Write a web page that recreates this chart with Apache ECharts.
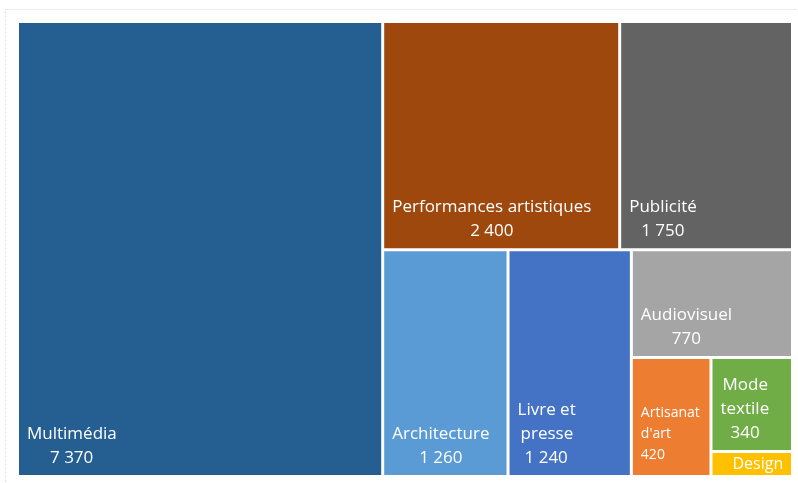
<!DOCTYPE html>
<html><head><meta charset="utf-8">
<script src="https://cdn.jsdelivr.net/npm/echarts@6/dist/echarts.min.js"></script>
<style>html,body{margin:0;padding:0;background:#fff}#c{width:798px;height:483px}</style>
</head><body><div id="c"></div>
<script>
const categories = ['Multimédia', 'Performances artistiques', 'Publicité', 'Architecture', 'Livre et presse', 'Audiovisuel', "Artisanat d'art", 'Mode textile', 'Design'];
const values = [7370, 2400, 1750, 1260, 1240, 770, 420, 340, 90];
const labelLines = [['Multimédia'], ['Performances artistiques'], ['Publicité'], ['Architecture'], ['Livre et', 'presse'], ['Audiovisuel'], ['Artisanat', "d'art"], ['Mode', 'textile'], ['Design']];
const colors = ['#255E91', '#9E480E', '#636363', '#5B9BD5', '#4472C4', '#A5A5A5', '#ED7D31', '#70AD47', '#FFC000'];
// grouping of categories (indices) that reproduces the reference layout
const structure = [0, [[1, 2], [3, 4, [5, [6, [7, 8]]]]]];

const FONT = 'Open Sans';
const ctx = document.createElement('canvas').getContext('2d');
function textW(s, size) { ctx.font = size + 'px "' + FONT + '"'; return ctx.measureText(s).width; }
function fmt(v) { return String(v).replace(/\B(?=(\d{3})+(?!\d))/g, ' '); }

function leaf(i) {
  let label;
  if (i === 8) {
    label = {
      formatter: '{b}', color: '#fff', fontFamily: FONT, fontSize: 16, lineHeight: 18,
      padding: 0, position: [20, 2], overflow: 'truncate', ellipsis: ''
    };
  } else {
    const centered = i !== 6;
    const size = centered ? 17 : 14;
    const lh = centered ? 24 : 21;
    const bottom = centered ? 5 : 9;
    const lines = labelLines[i].concat([fmt(values[i])]);
    const widths = lines.map(s => textW(s, size));
    const maxW = Math.max.apply(null, widths);
    const rich = {};
    const parts = lines.map((s, k) => {
      rich['l' + k] = {
        color: '#fff', fontFamily: FONT, fontSize: size, lineHeight: lh, align: 'left',
        padding: [0, 0, 0, centered ? Math.round((maxW - widths[k]) / 2) : 0]
      };
      return '{l' + k + '|' + s + '}';
    });
    label = {
      formatter: parts.join('\n'), rich: rich, padding: 0,
      position: [8, '100%'], offset: [0, -(lines.length * lh + bottom)]
    };
  }
  return { name: categories[i], value: values[i], itemStyle: { color: colors[i] }, label: label };
}
function build(node) {
  if (typeof node === 'number') return leaf(node);
  const children = node.map(build);
  const sum = children.reduce((a, c) => a + c.value, 0);
  return { name: '', value: sum, children: children };
}
const data = structure.map(build);

const chart = echarts.init(document.getElementById('c'));
chart.setOption({
  animation: false,
  graphic: [{ type: 'rect', z: -10, shape: { x: 5.5, y: 9.5, width: 800, height: 480 }, style: { fill: 'none', stroke: '#dcdcdc', lineWidth: 1, lineDash: [2, 2] } }],
  series: [{
    type: 'treemap',
    left: 19, top: 23, width: 772, height: 452,
    roam: false, nodeClick: false, sort: false,
    breadcrumb: { show: false },
    squareRatio: 1,
    itemStyle: { borderWidth: 0, gapWidth: 3, borderColor: '#fff' },
    upperLabel: { show: false },
    label: { show: true, padding: 0 },
    emphasis: { disabled: true },
    data: data
  }]
});
</script></body></html>
